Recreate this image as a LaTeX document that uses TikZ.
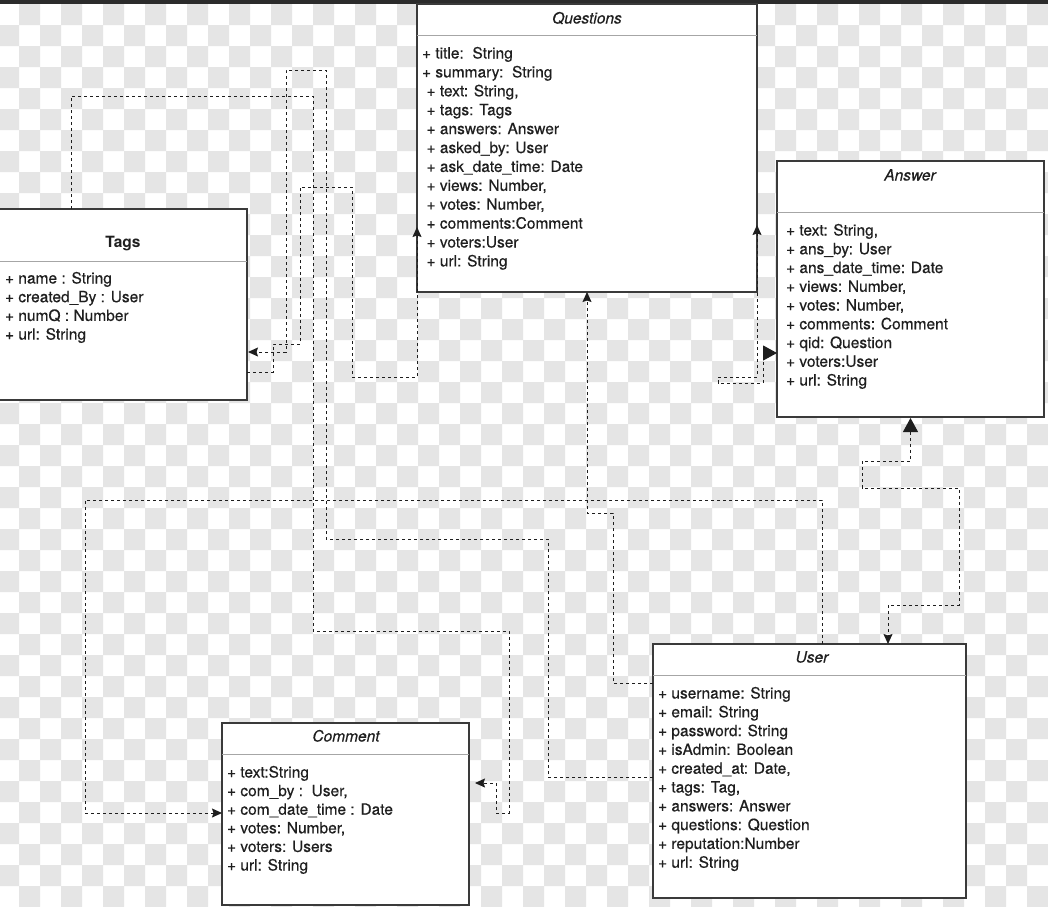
\documentclass[tikz,border=0pt]{standalone}
\usepackage{fontspec}
\setmainfont{TeX Gyre Heros}[UprightFeatures={FakeBold=0.4},ItalicFeatures={FakeBold=0.4}]
\usetikzlibrary{arrows.meta,calc}
\definecolor{checkgrey}{RGB}{229,229,229}
\definecolor{topbar}{HTML}{2B2B2B}
\definecolor{boxline}{HTML}{3A3A3A}
\definecolor{sepline}{HTML}{A6A6A6}
\definecolor{connline}{HTML}{1E1E1E}
\newcommand\attrfont{\fontsize{15.5}{18.8}\selectfont}
\begin{document}
\begin{tikzpicture}[x=1pt,y=-1pt,
  box/.style={draw=boxline, fill=white, line width=1.3pt, inner sep=0pt, outer sep=0pt, rectangle},
  sepl/.style={draw=sepline, line width=1pt},
  conn/.style={draw=connline, line width=1pt, dash pattern=on 3pt off 3pt},
  attr/.style={anchor=base west, inner sep=0pt, outer sep=0pt, font=\attrfont, text=black!88},
  ttl/.style={anchor=base, inner sep=0pt, outer sep=0pt, font=\attrfont\itshape, text=black!88},
  ttlb/.style={anchor=base, inner sep=0pt, outer sep=0pt, font=\attrfont\bfseries, text=black!88},
  tipS/.tip={Stealth[length=10pt,width=9pt,inset=1.5pt]},
  tipB/.tip={Triangle[length=14pt,width=15pt]}]
\useasboundingbox (0,0) rectangle (1048,906);
\fill[white] (0,0) rectangle (1048,906);
% transparency checkerboard
\fill[checkgrey] \foreach \rowi in {0,2,...,42}{
    \foreach \colj in {19,61,...,1050}{ (\colj,{4+21*\rowi}) rectangle ++(21,21) }
  }
  \foreach \rowi in {1,3,...,43}{
    \foreach \colj in {-2,40,...,1050}{ (\colj,{4+21*\rowi}) rectangle ++(21,21) }
  };
\fill[topbar] (0,0) rectangle (1048,4);

% boxes
\node[box, minimum width=340pt, minimum height=288pt] (Q) at (587,148) {};
\node[box, minimum width=267pt, minimum height=256pt] (A) at (910.5,289) {};
\node[box, minimum width=249pt, minimum height=191pt] (T) at (122.5,304.5) {};
\node[box, minimum width=313pt, minimum height=254pt] (U) at (809.5,771) {};
\node[box, minimum width=247pt, minimum height=182pt] (C) at (345.5,814) {};

\draw[sepl] ($(Q.north west)+(0,31)$) -- ($(Q.north east)+(0,31)$);
\draw[sepl] ($(A.north west)+(0,51)$) -- ($(A.north east)+(0,51)$);
\draw[sepl] ($(T.north west)+(0,52)$) -- ($(T.north east)+(0,52)$);
\draw[sepl] ($(U.north west)+(0,31)$) -- ($(U.north east)+(0,31)$);
\draw[sepl] ($(C.north west)+(0,31)$) -- ($(C.north east)+(0,31)$);

% Tags -> Comment
\draw[conn,-{tipS}] ($(T.north west)+(73,0)$) -- (71,96) -- (313,96) -- (313,631) -- (509,631) -- (509,813) -- (496,813) -- (496,783) -- ($(C.east)+(6,-31)$);
% User -> Tags
\draw[conn,-{tipS}] ($(U.west)+(0,6)$) -- (548,777) -- (548,539) -- (326,539) -- (326,70) -- (286,70) -- (286,352) -- ($(T.east)+(1,47.5)$);
% Tags -> Questions
\draw[conn,-{tipS}] ($(T.east)+(0,67.5)$) -- (273,372) -- (273,344) -- (300,344) -- (300,187) -- (352,187) -- (352,377) -- (417,377) -- ($(Q.west)+(0,79)$);
% User -> Questions
\draw[conn,-{tipS}] ($(U.west)+(0,-88)$) -- (613,683) -- (613,513) -- (587,513) -- (Q.south);
% User -> Comment
\draw[conn,-{tipS}] ($(U.north)+(12.5,0)$) -- (822,500) -- (85,500) -- (85,813) -- ($(C.west)+(0,-1)$);
% Answer <-> User
\draw[conn,{tipB}-{tipS}] ($(A.south)+(0,1)$) -- (910.5,461) -- (862,461) -- (862,488) -- (959,488) -- (959,605) -- (888,605) -- ($(U.north)+(78.5,0)$);
% Questions <-> Answer
\draw[conn,{tipS}-{tipB}] ($(Q.east)+(0,77)$) -- (757,377) -- (718,377) -- (718,383) -- (763,383) -- (763,353) -- ($(A.west)+(0,64)$);

% titles
\node[ttl] (qt) at (587,23.5) {Questions};
\node[ttl] (at) at (910,180.5) {Answer};
\node[ttlb] (tt) at (123,247.5) {Tags};
\node[ttl] (ut) at (812,662.5) {User};
\node[ttl] (ct) at (346,741.5) {Comment};

% attributes
\foreach \t [count=\i] in {{+ title:\ \ String},{+ summary:\ \ String},{\hspace*{4.5pt}+ text: String,},{\hspace*{4.5pt}+ tags: Tags},{\hspace*{4.5pt}+ answers: Answer},{\hspace*{4.5pt}+ asked\_by: User},{\hspace*{4.5pt}+ ask\_date\_time: Date},{\hspace*{4.5pt}+ views: Number,},{\hspace*{4.5pt}+ votes: Number,},{\hspace*{4.5pt}+ comments:Comment},{\hspace*{4.5pt}+ voters:User},{\hspace*{4.5pt}+ url: String}}
  \node[attr] (q\i) at (422,{58.5+18.9*(\i-1)}) {\t};
\foreach \t [count=\i] in {{+ text: String,},{+ ans\_by: User},{+ ans\_date\_time: Date},{+ views: Number,},{+ votes: Number,},{+ comments: Comment},{+ qid: Question},{+ voters:User},{+ url: String}}
  \node[attr] (a\i) at (786,{235.5+18.75*(\i-1)}) {\t};
\foreach \t [count=\i] in {{+ name : String},{+ created\_By : User},{+ numQ : Number},{+ url: String}}
  \node[attr] (t\i) at (5,{283.5+18.7*(\i-1)}) {\t};
\foreach \t [count=\i] in {{+ username: String},{+ email: String},{+ password: String},{+ isAdmin: Boolean},{+ created\_at: Date,},{+ tags: Tag,},{+ answers: Answer},{+ questions: Question},{+ reputation:Number},{+ url: String}}
  \node[attr] (u\i) at (658,{698.5+18.8*(\i-1)}) {\t};
\foreach \t [count=\i] in {{+ text:String},{+ com\_by :\ \ User,},{+ com\_date\_time : Date},{+ votes: Number,},{+ voters: Users},{+ url: String}}
  \node[attr] (c\i) at (227,{777.5+18.6*(\i-1)}) {\t};
\end{tikzpicture}
\end{document}
